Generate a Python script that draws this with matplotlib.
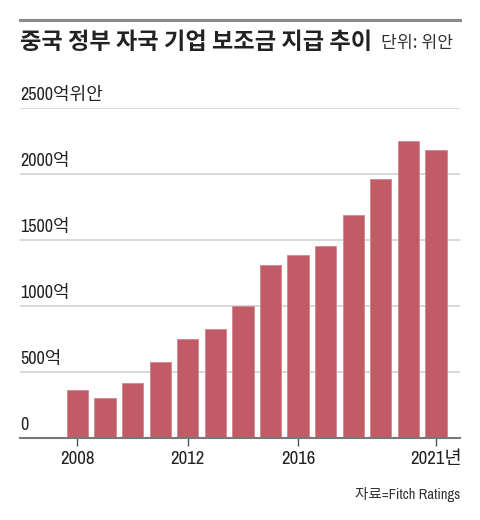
import matplotlib
matplotlib.use("Agg")
import matplotlib.pyplot as plt
from matplotlib.lines import Line2D
from matplotlib import font_manager as fm

years = [2008, 2009, 2010, 2011, 2012, 2013, 2014, 2015, 2016, 2017, 2018, 2019, 2020, 2021]
subsidies = [362, 303, 413, 572, 749, 825, 1002, 1308, 1384, 1452, 1687, 1960, 2251, 2181]
y_ticks = [0, 500, 1000, 1500, 2000, 2500]
y_labels = ["0", "500억", "1000억", "1500억", "2000억", "2500억위안"]
x_ticks = [2008, 2012, 2016, 2021]
x_labels = ["2008", "2012", "2016", "2021년"]
title = "중국 정부 자국 기업 보조금 지급 추이"
unit = "단위: 위안"
source = "자료=Fitch Ratings"


def pick_font(cands):
    for c in cands:
        try:
            fm.findfont(fm.FontProperties(family=c), fallback_to_default=False)
            return c
        except Exception:
            continue
    return "DejaVu Sans"


narrow = pick_font(["Liberation Sans Narrow", "Archivo Narrow", "Barlow Semi Condensed"])
NARROW = [narrow, "Noto Sans CJK KR", "DejaVu Sans"]
CJK = ["Noto Sans CJK KR", "DejaVu Sans"]

W, H = 480, 520
fig = plt.figure(figsize=(W / 100, H / 100), dpi=100)
fig.patch.set_facecolor("white")

L, R = 20 / W, 460 / W
bottom = 1 - 437.7 / H
top = 1 - 108.2 / H
ax = fig.add_axes([L, bottom, R - L, top - bottom])

bar_color = "#c15c67"
ax.bar(years, subsidies, width=0.77, color=bar_color, edgecolor="#d58a93",
       linewidth=0.7, zorder=3)

ax.set_xlim(2005.92, 2021.87)
ax.set_ylim(0, 2500)

ax.set_yticks(y_ticks)
ax.yaxis.grid(True, color="#d2d2d2", linewidth=1.2, zorder=0)
ax.tick_params(axis="y", length=0, labelleft=False)
for v, lab in zip(y_ticks, y_labels):
    ax.annotate(lab, xy=(0, v), xycoords=("axes fraction", "data"),
                xytext=(0, 5.8), textcoords="offset points",
                ha="left", va="baseline", fontsize=13, family=NARROW,
                color="#222222")

ax.set_xticks(x_ticks)
ax.set_xticklabels(x_labels, family=NARROW, fontsize=13.5, color="#222222")
ax.tick_params(axis="x", length=6, width=1, color="#555555", pad=3.5)

for s in ["left", "right", "top"]:
    ax.spines[s].set_visible(False)
ax.spines["bottom"].set_color("#777777")
ax.spines["bottom"].set_linewidth(1.5)
ax.spines["bottom"].set_zorder(4)
ax.set_axisbelow(True)

fig.add_artist(Line2D([L, R], [1 - 20 / H, 1 - 20 / H], color="#8a8a8a",
                      linewidth=2.2, transform=fig.transFigure))

t = fig.text(L, 1 - 42.5 / H, title, ha="left", va="center", fontsize=16.7,
             fontweight="bold", family=CJK, color="#222222")
fig.canvas.draw()
bb = t.get_window_extent()
fig.text((bb.x1 + 9) / W, 1 - 43 / H, unit, ha="left", va="center",
         fontsize=12.4, family=CJK, color="#333333")

fig.text(R, 1 - 495 / H, source, ha="right", va="center", fontsize=10.5,
         family=NARROW, color="#333333")

fig.savefig("out.png", dpi=100, facecolor="white")
